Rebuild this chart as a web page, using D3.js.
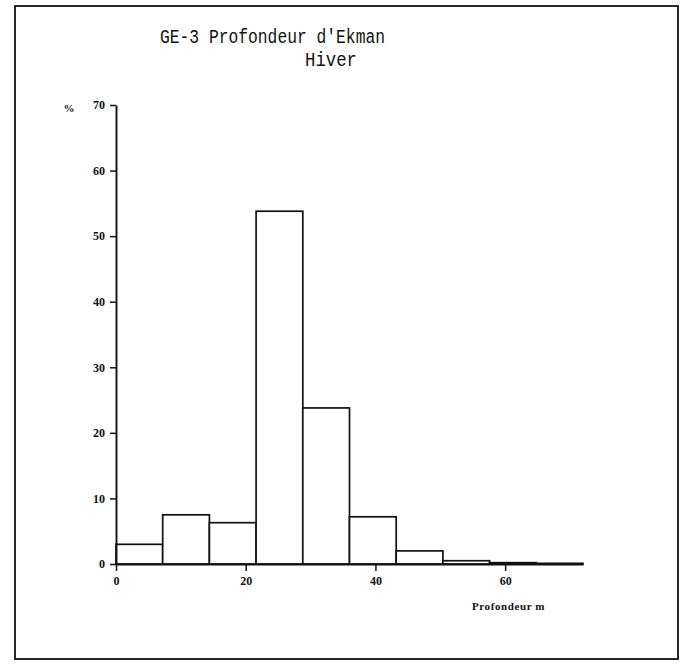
<!DOCTYPE html>
<html>
<head>
<meta charset="utf-8">
<script src="https://cdn.jsdelivr.net/npm/d3@7"></script>
<style>
  html, body { margin: 0; padding: 0; background: #fff; }
  svg { display: block; }
</style>
</head>
<body>
<svg id="chart" width="680" height="664"></svg>
<script>
// ---- data ----
const binEdges = [0, 7.2, 14.4, 21.6, 28.8, 36, 43.2, 50.4, 57.6, 64.8, 72];
const percents = [3.0, 7.5, 6.3, 53.8, 23.8, 7.2, 2.0, 0.5, 0.2, 0.1];
const xTicks = [0, 20, 40, 60];
const yTicks = [0, 10, 20, 30, 40, 50, 60, 70];
const titleLine1 = "GE-3 Profondeur d'Ekman";
const titleLine2 = "Hiver";
const xLabel = "Profondeur m";
const yLabel = "%";

const svg = d3.select("#chart");
const ink = "#111";

// frame
svg.append("rect")
  .attr("x", 15).attr("y", 6).attr("width", 663).attr("height", 653)
  .attr("fill", "none").attr("stroke", ink).attr("stroke-width", 1.8);

const x = d3.scaleLinear().domain([0, 72]).range([116, 583]);
const y = d3.scaleLinear().domain([0, 70]).range([564, 105]);

// bars
const bins = percents.map((v, i) => ({x0: binEdges[i], x1: binEdges[i + 1], v}));
svg.append("g").selectAll("rect").data(bins).join("rect")
  .attr("x", d => x(d.x0))
  .attr("y", d => y(d.v))
  .attr("width", d => x(d.x1) - x(d.x0))
  .attr("height", d => y(0) - y(d.v))
  .attr("fill", "#fff")
  .attr("stroke", ink)
  .attr("stroke-width", 1.7);

// y axis
const yAxis = d3.axisLeft(y).tickValues(yTicks).tickSize(6).tickPadding(5).tickSizeOuter(0);
const gy = svg.append("g").attr("transform", `translate(${x(0)},0)`).call(yAxis);
gy.select(".domain").attr("stroke", ink).attr("stroke-width", 1.9);
gy.selectAll(".tick line").attr("stroke", ink).attr("stroke-width", 1.5);
gy.selectAll(".tick text")
  .attr("font-family", "'Liberation Serif', serif")
  .attr("font-weight", "bold")
  .attr("font-size", 12)
  .attr("fill", ink);

// x axis
const xAxis = d3.axisBottom(x).tickValues(xTicks).tickSize(7).tickPadding(5).tickSizeOuter(0);
const gx = svg.append("g").attr("transform", `translate(0,${y(0)})`).call(xAxis);
gx.select(".domain").attr("stroke", ink).attr("stroke-width", 1.9);
gx.selectAll(".tick line").attr("stroke", ink).attr("stroke-width", 1.5);
gx.selectAll(".tick text")
  .attr("font-family", "'Liberation Serif', serif")
  .attr("font-weight", "bold")
  .attr("font-size", 12)
  .attr("fill", ink);

// axis labels
svg.append("text")
  .attr("x", 472).attr("y", 610)
  .attr("font-family", "'Liberation Serif', serif")
  .attr("font-weight", "bold")
  .attr("font-size", 11)
  .attr("letter-spacing", 0.6)
  .attr("fill", ink)
  .text(xLabel);

svg.append("text")
  .attr("x", 69).attr("y", 112)
  .attr("text-anchor", "middle")
  .attr("font-family", "'Liberation Serif', serif")
  .attr("font-weight", "bold")
  .attr("font-size", 11)
  .attr("fill", ink)
  .text(yLabel);

// title
svg.append("text")
  .attr("x", 160).attr("y", 43)
  .attr("font-family", "'Liberation Mono', 'DejaVu Sans Mono', monospace")
  .attr("font-size", 20)
  .attr("textLength", 225)
  .attr("lengthAdjust", "spacingAndGlyphs")
  .attr("fill", ink)
  .text(titleLine1);

svg.append("text")
  .attr("x", 305).attr("y", 66)
  .attr("font-family", "'Liberation Mono', 'DejaVu Sans Mono', monospace")
  .attr("font-size", 20)
  .attr("textLength", 52)
  .attr("lengthAdjust", "spacingAndGlyphs")
  .attr("fill", ink)
  .text(titleLine2);
</script>
</body>
</html>
